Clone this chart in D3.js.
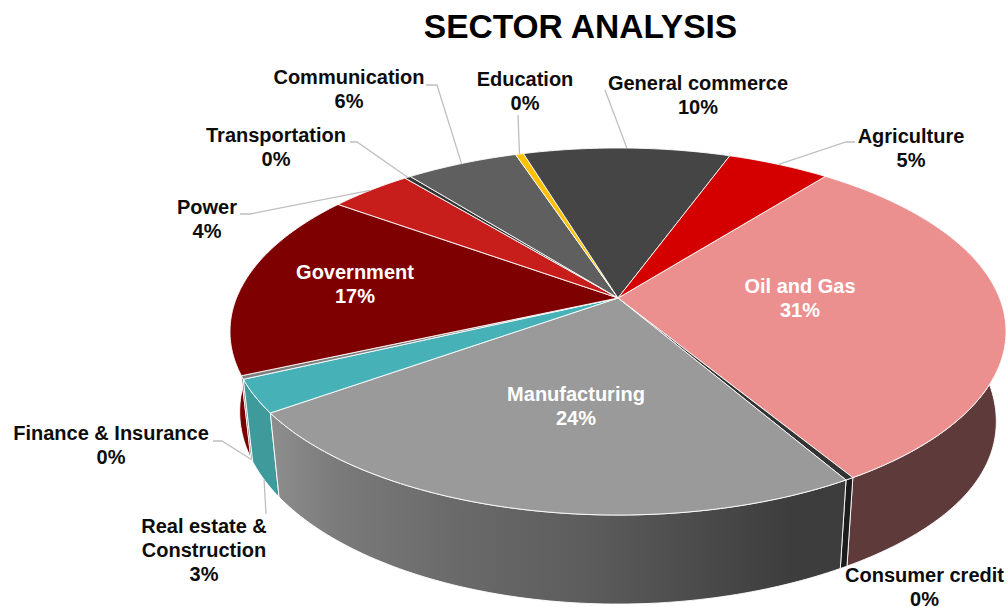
<!DOCTYPE html>
<html>
<head>
<meta charset="utf-8">
<script src="https://cdn.jsdelivr.net/npm/d3@7"></script>
<style>
  html, body { margin: 0; background: #fff; }
  svg { display: block; }
  text { font-family: "Liberation Sans", Arial, sans-serif; font-weight: bold; }
</style>
</head>
<body>
<svg id="canvas" width="1008" height="607"></svg>
<script>
const categories = ['Oil and Gas', 'Consumer credit', 'Manufacturing', 'Real estate & Construction', 'Finance & Insurance',
  'Government', 'Power', 'Transportation', 'Communication', 'Education', 'General commerce', 'Agriculture'];
const shares = [30.7, 0.3, 23.6, 2.9, 0.3, 16.6, 4.1, 0.3, 5.6, 0.4, 10.3, 5.1];
const topColors = ['#ec8f8f', '#333333', '#9a9a9a', '#46b1b7', '#7f7f7f', '#7f0000', '#c81e1b', '#333333', '#5f5f5f', '#ffc000', '#454545', '#d40000'];
const sideColors = ['#5f3a3a', '#1c1c1c', 'url(#mfgSide)', '#3f9a9c', '#555555', '#7a0000', '#8a1512', '#222222', '#444444', '#b38600', '#303030', '#950000'];

// label placement: centre x, centre y of first line, per category (same order)
const labelX = [800, 924.5, 576, 204, 111, 355, 207, 276, 349, 525, 698, 911];
const labelY = [286, 575, 394, 526, 433, 272, 207, 135, 77, 79, 83, 136];
const labelLines = [['Oil and Gas'], ['Consumer credit'], ['Manufacturing'], ['Real estate &', 'Construction'], ['Finance & Insurance'],
  ['Government'], ['Power'], ['Transportation'], ['Communication'], ['Education'], ['General commerce'], ['Agriculture']];
const whiteLabels = ['Oil and Gas', 'Manufacturing', 'Government'];

// leader lines: where the elbow starts/bends, and whether it lands on the lower rim
const leaders = {
  'Real estate & Construction': { from: [266, 514], bend: [266, 514], lower: true },
  'Finance & Insurance': { from: [213, 441], bend: [222, 441], lower: true },
  'Power': { from: [240, 214], bend: [250, 214] },
  'Transportation': { from: [350, 142], bend: [357, 142] },
  'Communication': { from: [426, 85], bend: [437, 85] },
  'Education': { from: [518, 115], bend: [518, 115] },
  'General commerce': { from: [605, 90], bend: [605, 90] },
  'Agriculture': { from: [855, 142], bend: [846, 142] }
};

const svg = d3.select('#canvas');

// tilted disc with perspective, apex is not the ellipse centre
const apexX = 618, apexY = 298, discA = 381.5, discB = 177.4, persp = 0.1826;
const project = (a) => {
  const u = Math.sin(a), v = -Math.cos(a), w = 1 - persp * v;
  return [apexX + discA * u / w, apexY + discB * v / w];
};
const lower = (p) => {
  const dy = p[1] - apexY;
  const right = Math.max(0, (p[0] - apexX) / 388);
  return [apexX + 0.975 * (p[0] - apexX), p[1] + 78.4 + 0.049 * dy + 10 * Math.pow(right, 4)];
};

const startDeg = 38.4;
const rad = (d) => d * Math.PI / 180;
const pie = d3.pie().sort(null).startAngle(rad(startDeg)).endAngle(rad(startDeg + 360));
const slices = pie(shares).map((s, i) => ({ ...s, i, mid: (s.startAngle + s.endAngle) / 2 }));

const rimPoints = (s) => {
  const n = Math.max(2, Math.ceil((s.endAngle - s.startAngle) / rad(1)));
  return d3.range(n + 1).map(k => project(s.startAngle + (s.endAngle - s.startAngle) * k / n));
};
const line = d3.line();

const grad = svg.append('defs').append('linearGradient')
  .attr('id', 'mfgSide').attr('gradientUnits', 'userSpaceOnUse')
  .attr('x1', 270).attr('x2', 850).attr('y1', 0).attr('y2', 0);
[[0, '#8e8e8e'], [0.12, '#7a7a7a'], [0.32, '#6a6a6a'], [0.55, '#5c5c5c'], [0.75, '#4a4a4a'], [0.9, '#3d3d3d'], [1, '#3c3c3c']]
  .forEach(([o, c]) => grad.append('stop').attr('offset', o).attr('stop-color', c));

// walls first, back to front
svg.append('g').selectAll('path')
  .data(slices.slice().sort((a, b) => -Math.cos(a.mid) - -Math.cos(b.mid)))
  .enter().append('path')
  .attr('d', s => {
    const rim = rimPoints(s);
    return line(rim.concat(rim.map(lower).reverse())) + 'Z';
  })
  .attr('fill', s => sideColors[s.i])
  .attr('stroke', '#fff').attr('stroke-width', 0.9).attr('stroke-linejoin', 'round');

// top faces
svg.append('g').selectAll('path')
  .data(slices)
  .enter().append('path')
  .attr('d', s => line([[apexX, apexY]].concat(rimPoints(s))) + 'Z')
  .attr('fill', s => topColors[s.i])
  .attr('stroke', '#fff').attr('stroke-width', 0.9).attr('stroke-linejoin', 'round');

// leader lines
svg.append('g').selectAll('path')
  .data(slices.filter(s => leaders[categories[s.i]]))
  .enter().append('path')
  .attr('d', s => {
    const l = leaders[categories[s.i]];
    const end = l.lower ? lower(project(s.mid)) : project(s.mid);
    return line([l.from, l.bend, end]);
  })
  .attr('fill', 'none').attr('stroke', '#bfbfbf').attr('stroke-width', 1.3);

// labels
const lineGap = 24;
const labels = svg.append('g').selectAll('text')
  .data(slices)
  .enter().append('text')
  .attr('text-anchor', 'middle')
  .attr('font-size', 20)
  .attr('fill', s => whiteLabels.includes(categories[s.i]) ? '#fff' : '#0d0d0d');
labels.each(function (s) {
  const rows = labelLines[s.i].concat(Math.round(shares[s.i]) + '%');
  d3.select(this).selectAll('tspan').data(rows).enter().append('tspan')
    .attr('x', labelX[s.i])
    .attr('y', (d, k) => labelY[s.i] + k * lineGap + 7)
    .text(d => d);
});

svg.append('text')
  .attr('x', 580.5).attr('y', 38)
  .attr('text-anchor', 'middle')
  .attr('font-size', 33.5)
  .attr('fill', '#000')
  .text('SECTOR ANALYSIS');
</script>
</body>
</html>
